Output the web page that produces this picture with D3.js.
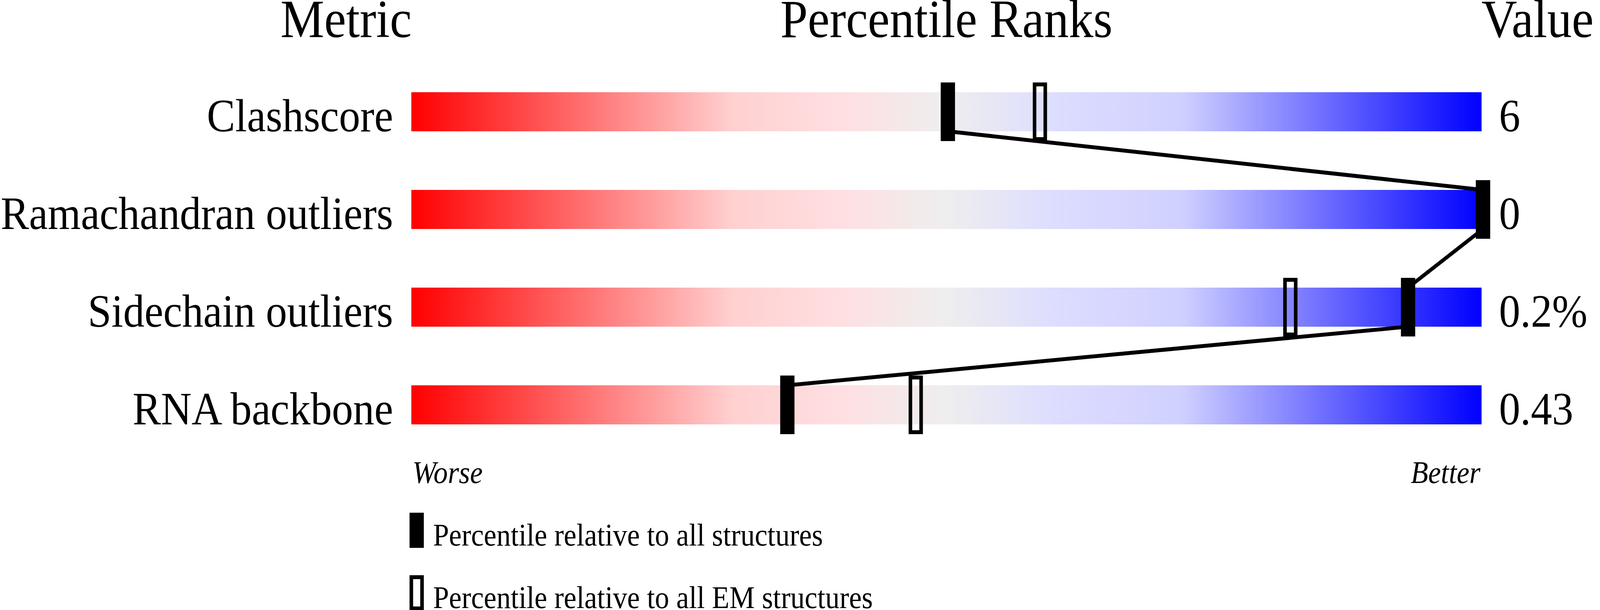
<!DOCTYPE html>
<html>
<head>
<meta charset="utf-8">
<script src="https://cdn.jsdelivr.net/npm/d3@7"></script>
<style>
  html, body { margin: 0; padding: 0; background: #fff; overflow: hidden; }
  #chart svg { display: block; width: 100vw; height: 100vh; }
  text { font-family: "Liberation Serif", "Times New Roman", serif; fill: #000; }
</style>
</head>
<body>
<div id="chart"></div>
<script>
// data
const metrics = ["Clashscore", "Ramachandran outliers", "Sidechain outliers", "RNA backbone"];
const values = ["6", "0", "0.2%", "0.43"];
const pctAll = [50, 100, 93, 35];     // percentile relative to all structures
const pctEM = [58.6, 100, 82, 47];    // percentile relative to all EM structures
const legendLabels = ["Percentile relative to all structures", "Percentile relative to all EM structures"];

// gradient of the slider bar
const gradStops = [
    [0, "#ff0000"], [0.3, "#ffd0d0"], [0.4, "#ffdfe2"], [0.5, "#eeeeee"],
    [0.6, "#ddddff"], [0.72, "#d0d0ff"], [1, "#0000ff"]
];

const W = 4485, H = 1561;
// viewBox stretched over the whole window
const svg = d3.select("#chart").append("svg")
    .attr("viewBox", `0 0 ${W} ${H}`)
    .attr("preserveAspectRatio", "none");

const x = d3.scaleLinear().domain([0, 100]).range([1153, 4153]);
const y = d3.scaleBand().domain(metrics).range([236, 1086]).paddingInner(0.6).paddingOuter(0);
const bh = y.bandwidth();

const markW = 40, markH = 150, markDx = 4;

// gradient def
const grad = svg.append("defs").append("linearGradient")
    .attr("id", "slider")
    .attr("x1", "0%").attr("x2", "100%").attr("y1", "0%").attr("y2", "0%");
grad.selectAll("stop")
    .data(gradStops)
    .enter()
    .append("stop")
    .attr("offset", d => d[0])
    .attr("stop-color", d => d[1]);

// 標題
const titleSize = 138;
svg.append("text").attr("x", 970).attr("y", 95).attr("text-anchor", "middle")
    .style("font-size", titleSize + "px").text("Metric");
svg.append("text").attr("x", (x(0) + x(100)) / 2).attr("y", 95).attr("text-anchor", "middle")
    .style("font-size", titleSize + "px").text("Percentile Ranks");
svg.append("text").attr("x", x(100)).attr("y", 95).attr("text-anchor", "start")
    .style("font-size", titleSize + "px").text("Value");

// bars
svg.selectAll("rect.bar")
    .data(metrics)
    .enter()
    .append("rect")
    .attr("class", "bar")
    .attr("x", x(0))
    .attr("y", d => y(d))
    .attr("width", x(100) - x(0))
    .attr("height", bh)
    .attr("fill", "url(#slider)");

// metric labels and values
svg.selectAll("text.label")
    .data(metrics)
    .enter()
    .append("text")
    .attr("class", "label")
    .attr("x", 1102)
    .attr("y", d => y(d) + bh)
    .attr("text-anchor", "end")
    .style("font-size", "119px")
    .text(d => d);

svg.selectAll("text.value")
    .data(values)
    .enter()
    .append("text")
    .attr("class", "value")
    .attr("x", 4202)
    .attr("y", (d, i) => y(metrics[i]) + bh)
    .style("font-size", "119px")
    .text(d => d);

// line joining the "all structures" markers
const pts = [];
metrics.forEach((m, i) => {
    pts.push([x(pctAll[i]) + markDx, y(m)]);
    pts.push([x(pctAll[i]) + markDx, y(m) + bh]);
});
svg.append("path")
    .attr("d", d3.line()(pts))
    .attr("fill", "none")
    .attr("stroke", "#000")
    .attr("stroke-width", 10);

// EM markers (open)
svg.selectAll("rect.em")
    .data(pctEM)
    .enter()
    .append("rect")
    .attr("class", "em")
    .attr("x", d => x(d) + markDx - markW / 2 + 5)
    .attr("y", (d, i) => y(metrics[i]) + bh / 2 - markH / 2 + 5)
    .attr("width", markW - 10)
    .attr("height", markH - 10)
    .attr("fill", "none")
    .attr("stroke", "#000")
    .attr("stroke-width", 10);

// all-structure markers (filled)
svg.selectAll("rect.all")
    .data(pctAll)
    .enter()
    .append("rect")
    .attr("class", "all")
    .attr("x", d => x(d) + markDx - markW / 2)
    .attr("y", (d, i) => y(metrics[i]) + bh / 2 - markH / 2)
    .attr("width", markW)
    .attr("height", markH)
    .attr("fill", "#000");

// Worse / Better
svg.append("text").attr("x", 1156).attr("y", 1236)
    .style("font-size", "80px").style("font-style", "italic").text("Worse");
svg.append("text").attr("x", 4150).attr("y", 1236).attr("text-anchor", "end")
    .style("font-size", "80px").style("font-style", "italic").text("Better");

// legend
const legend = svg.selectAll("g.legend")
    .data(legendLabels)
    .enter()
    .append("g")
    .attr("class", "legend")
    .attr("transform", (d, i) => `translate(1148,${1312 + i * 160})`);

legend.append("rect")
    .attr("x", (d, i) => i === 0 ? 0 : 5)
    .attr("y", (d, i) => i === 0 ? 0 : 5)
    .attr("width", (d, i) => i === 0 ? markW : markW - 10)
    .attr("height", (d, i) => i === 0 ? 90 : 80)
    .attr("fill", (d, i) => i === 0 ? "#000" : "none")
    .attr("stroke", (d, i) => i === 0 ? "none" : "#000")
    .attr("stroke-width", 10);

legend.append("text")
    .attr("x", 66)
    .attr("y", 84)
    .style("font-size", "80px")
    .text(d => d);
</script>
</body>
</html>
